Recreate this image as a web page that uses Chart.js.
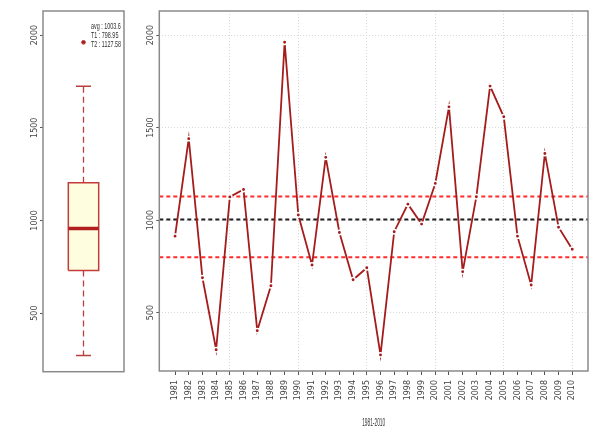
<!DOCTYPE html>
<html>
<head>
<meta charset="utf-8">
<script src="https://cdn.jsdelivr.net/npm/chart.js@4.4.1/dist/chart.umd.min.js"></script>
<style>
    html, body { margin: 0; padding: 0; background: #fff; }
    #wrap { position: relative; width: 595px; height: 432px; }
    #boxWrap { position: absolute; left: 0; top: 0; width: 135px; height: 432px; }
    #lineWrap { position: absolute; left: 135px; top: 0; width: 460px; height: 432px; }
</style>
</head>
<body>
<div id="wrap">
    <div id="boxWrap"><canvas id="boxChart"></canvas></div>
    <div id="lineWrap"><canvas id="lineChart"></canvas></div>
</div>
<script>
// 年份和数值
const years = [1981, 1982, 1983, 1984, 1985, 1986, 1987, 1988, 1989, 1990,
               1991, 1992, 1993, 1994, 1995, 1996, 1997, 1998, 1999, 2000,
               2001, 2002, 2003, 2004, 2005, 2006, 2007, 2008, 2009, 2010];
const values = [913, 1440, 688, 299, 1125, 1165, 402, 645, 1961, 1027,
                757, 1339, 933, 677, 742, 271, 937, 1086, 978, 1198,
                1612, 721, 1126, 1724, 1558, 913, 649, 1360, 961, 842];

// 参考线
const avgValue = 1003.6;
const t1Value = 798.95;
const t2Value = 1127.58;
const legendLines = ['avg : 1003.6', 'T1 : 798.95', 'T2 : 1127.58'];

// 箱线图：下须、Q1、中位数、Q3、上须
const boxStats = [271, 730, 957, 1204, 1724];
const outliers = [1961];

// 坐标轴
const yTicks = [500, 1000, 1500, 2000];
const xTitle = '1981-2010';
const yMin = 184, yMax = 2130;
const xMin = 1979.85, xMax = 2011.15;

const boxHalf = 0.375;
const capHalf = 0.185;
const gridColor = '#d9d9d9';

// 压扁的文字（模仿原图的窄字体）
function drawNarrow(ctx, text, x, y, sx, size, align) {
    ctx.save();
    ctx.font = size + 'px "Liberation Sans Narrow", "Liberation Sans", sans-serif';
    ctx.translate(x, y);
    ctx.scale(sx, 1);
    ctx.textAlign = align;
    ctx.textBaseline = 'middle';
    ctx.fillStyle = '#333';
    ctx.fillText(text, 0, 0);
    ctx.restore();
}

function narrowScale(ctx, text, size, width) {
    ctx.save();
    ctx.font = size + 'px "Liberation Sans Narrow", "Liberation Sans", sans-serif';
    const w = ctx.measureText(text).width;
    ctx.restore();
    return width / w;
}

// 边框
const framePlugin = {
    id: 'frame',
    afterDraw(chart) {
        const { ctx, chartArea: a } = chart;
        ctx.save();
        ctx.strokeStyle = '#8a8a8a';
        ctx.lineWidth = 1.5;
        ctx.strokeRect(a.left, a.top, a.right - a.left, a.bottom - a.top);
        ctx.restore();
    }
};

// 竖排的 y 轴刻度文字
const yLabelPlugin = {
    id: 'yLabels',
    afterDraw(chart) {
        const { ctx, chartArea: a } = chart;
        const scale = chart.scales.y;
        ctx.save();
        ctx.font = '8px "DejaVu Sans"';
        ctx.fillStyle = '#444';
        ctx.textAlign = 'center';
        ctx.textBaseline = 'middle';
        yTicks.forEach(v => {
            const py = scale.getPixelForValue(v);
            ctx.save();
            ctx.translate(a.left - 8, py);
            ctx.rotate(-Math.PI / 2);
            ctx.fillText(String(v), 0, 0);
            ctx.restore();
        });
        ctx.restore();
    }
};

// 图例文字
const legendPlugin = {
    id: 'boxLegend',
    afterDraw(chart) {
        const { ctx, chartArea: a } = chart;
        const sx = narrowScale(ctx, legendLines[2], 9, 30);
        legendLines.forEach((t, i) => {
            drawNarrow(ctx, t, a.left + 48, a.top + 15.5 + i * 9.2, sx, 9, 'left');
        });
    }
};

// x 轴标题
const titlePlugin = {
    id: 'xTitle',
    afterDraw(chart) {
        const { ctx, chartArea: a } = chart;
        const sx = narrowScale(ctx, xTitle, 10, 23);
        drawNarrow(ctx, xTitle, (a.left + a.right) / 2, 423, sx, 10, 'center');
    }
};

function hLine(v) {
    return [{ x: xMin, y: v }, { x: xMax, y: v }];
}

function initBoxChart() {
    const whisker = {
        borderColor: '#b8403c', borderWidth: 1.3,
        borderDash: [6, 4], pointRadius: 0, order: 2
    };
    const cap = { borderColor: '#b8403c', borderWidth: 1.5, pointRadius: 0, order: 2 };
    new Chart(document.getElementById('boxChart'), {
        type: 'line',
        data: {
            datasets: [
                {
                    // 箱体
                    data: [
                        { x: -boxHalf, y: boxStats[1] }, { x: -boxHalf, y: boxStats[3] },
                        { x: boxHalf, y: boxStats[3] }, { x: boxHalf, y: boxStats[1] },
                        { x: -boxHalf, y: boxStats[1] }
                    ],
                    fill: 'shape', backgroundColor: '#fffde0', borderColor: '#c43b38',
                    borderWidth: 1.5, pointRadius: 0, order: 3
                },
                Object.assign({ data: [{ x: 0, y: boxStats[3] }, { x: 0, y: boxStats[4] }] }, whisker),
                Object.assign({ data: [{ x: 0, y: boxStats[1] }, { x: 0, y: boxStats[0] }] }, whisker),
                Object.assign({ data: [{ x: -capHalf, y: boxStats[4] }, { x: capHalf, y: boxStats[4] }] }, cap),
                Object.assign({ data: [{ x: -capHalf, y: boxStats[0] }, { x: capHalf, y: boxStats[0] }] }, cap),
                {
                    // 中位数
                    data: [{ x: -boxHalf, y: boxStats[2] }, { x: boxHalf, y: boxStats[2] }],
                    borderColor: '#b01e1e', borderWidth: 3.5, pointRadius: 0, order: 1
                },
                {
                    data: outliers.map(v => ({ x: 0, y: v })),
                    showLine: false, pointRadius: 1.8,
                    pointBackgroundColor: '#b01e1e', pointBorderColor: '#b01e1e', order: 1
                }
            ]
        },
        options: {
            animation: false,
            responsive: true,
            maintainAspectRatio: false,
            layout: { padding: { top: 11, right: 11, bottom: 60.3, left: 0 } },
            plugins: { legend: { display: false }, tooltip: { enabled: false } },
            scales: {
                x: { type: 'linear', display: false, min: -1, max: 1, offset: false },
                y: {
                    min: yMin, max: yMax,
                    afterBuildTicks: s => { s.ticks = yTicks.map(v => ({ value: v })); },
                    afterFit: s => { s.width = 43; },
                    grid: { color: 'rgba(0,0,0,0)', tickLength: 3, tickColor: '#555', drawOnChartArea: false },
                    border: { display: false },
                    ticks: { display: false }
                }
            }
        },
        plugins: [framePlugin, yLabelPlugin, legendPlugin]
    });
}

function initLineChart() {
    const dashed = { borderWidth: 2, borderDash: [4, 3], pointRadius: 0, order: 2 };
    new Chart(document.getElementById('lineChart'), {
        type: 'line',
        data: {
            datasets: [
                Object.assign({ data: hLine(t2Value), borderColor: '#ff2b2b' }, dashed),
                Object.assign({ data: hLine(t1Value), borderColor: '#ff2b2b' }, dashed),
                Object.assign({ data: hLine(avgValue), borderColor: '#1e1e1e' }, dashed),
                {
                    data: years.map((y, i) => ({ x: y, y: values[i] })),
                    borderColor: '#a51c1c', borderWidth: 1.8,
                    pointRadius: 2.2, pointBackgroundColor: '#a51c1c',
                    pointBorderColor: '#fff', pointBorderWidth: 1.5,
                    tension: 0, order: 0
                }
            ]
        },
        options: {
            animation: false,
            responsive: true,
            maintainAspectRatio: false,
            layout: { padding: { top: 11, right: 7, bottom: 0, left: 0 } },
            plugins: { legend: { display: false }, tooltip: { enabled: false } },
            scales: {
                x: {
                    type: 'linear', min: xMin, max: xMax,
                    afterBuildTicks: s => { s.ticks = years.map(v => ({ value: v })); },
                    afterFit: s => { s.height = 61; },
                    grid: {
                        color: c => (c.tick && c.tick.value % 5 === 0) ? gridColor : 'rgba(0,0,0,0)',
                        tickLength: 4, tickColor: '#555', tickBorderDash: []
                    },
                    border: { display: false, dash: [1, 2] },
                    ticks: {
                        autoSkip: false, minRotation: 90, maxRotation: 90, padding: 5,
                        font: { family: 'DejaVu Sans', size: 8 }, color: '#444',
                        callback: v => String(v)
                    }
                },
                y: {
                    min: yMin, max: yMax,
                    afterBuildTicks: s => { s.ticks = yTicks.map(v => ({ value: v })); },
                    afterFit: s => { s.width = 24.3; },
                    grid: { color: gridColor, tickLength: 3, tickColor: '#555', tickBorderDash: [] },
                    border: { display: false, dash: [1, 2] },
                    ticks: { display: false }
                }
            }
        },
        plugins: [framePlugin, yLabelPlugin, titlePlugin]
    });
}

document.addEventListener('DOMContentLoaded', () => {
    initBoxChart();
    initLineChart();
});
</script>
</body>
</html>
